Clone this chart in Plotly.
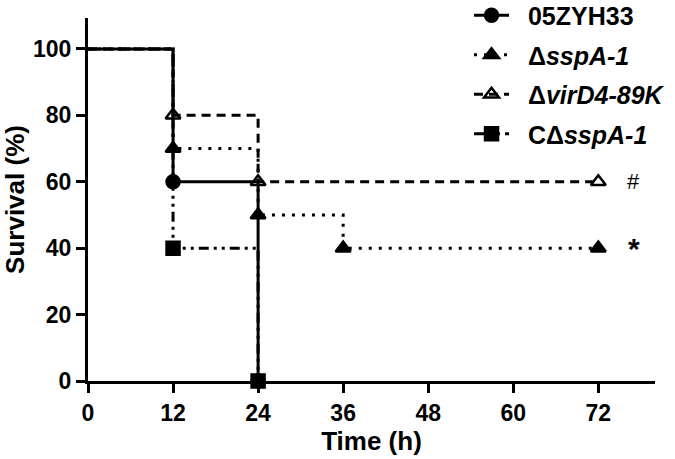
import plotly.graph_objects as go

# Kaplan-Meier step data (time in h, survival in %)
time_wt = [0, 12, 24]
surv_wt = [100, 60, 0]
time_sspa = [0, 12, 24, 36, 72]
surv_sspa = [100, 70, 50, 40, 40]
time_vird4 = [0, 12, 24, 72]
surv_vird4 = [100, 80, 60, 60]
time_comp = [0, 12, 24]
surv_comp = [100, 40, 0]

names = ["05ZYH33", "Δ<i>sspA-1</i>", "Δ<i>virD4-89K</i>", "CΔ<i>sspA-1</i>"]
x_ticks = [0, 12, 24, 36, 48, 60, 72]
y_ticks = [0, 20, 40, 60, 80, 100]
sig_labels = ["#", "*"]
sig_y = [60, 40]
sig_x = [77, 77]

FONT = "Liberation Sans"
PAD = "\u00a0\u00a0"
series = [
    # (x, y, name, dash, symbol)
    (time_comp, surv_comp, names[3], "10px,5px,3px,5px,3px,5px", "square"),
    (time_vird4, surv_vird4, names[2], "9px,6px", "triangle-up-open"),
    (time_sspa, surv_sspa, names[1], "3px,7px", "triangle-up"),
    (time_wt, surv_wt, names[0], "solid", "circle"),
]

fig = go.Figure()
for x, y, name, dash, sym in series:
    fig.add_trace(go.Scatter(x=x, y=y, mode="lines", line=dict(color="black", width=3, dash=dash, shape="hv"),
                             showlegend=False, hoverinfo="skip"))
for x, y, name, dash, sym in series:
    fig.add_trace(go.Scatter(x=x[1:], y=y[1:], mode="markers", cliponaxis=False,
                             marker=dict(symbol=sym, size=13, color="black", line=dict(color="black", width=2.5)),
                             showlegend=False))
# legend entries in reference order
for x, y, name, dash, sym in reversed(series):
    fig.add_trace(go.Scatter(x=[None], y=[None], mode="lines+markers", name=PAD + name, legendgroup=name,
                             line=dict(color="black", width=3, dash=dash),
                             marker=dict(symbol=sym, size=13, color="black", line=dict(color="black", width=2.5))))

for lab, xv, yv in zip(sig_labels, sig_x, sig_y):
    fig.add_annotation(x=xv, y=yv, text=lab, showarrow=False, xanchor="center", yanchor="middle",
                       font=dict(family=FONT, size=22 if lab == "#" else 30, color="black",
                                 weight="normal" if lab == "#" else "bold"))

fig.update_layout(
    width=675, height=459,
    margin=dict(l=88, r=20, t=18, b=78, autoexpand=False),
    paper_bgcolor="white", plot_bgcolor="white",
    font=dict(family=FONT, color="black"),
    legend=dict(x=0.672, y=1.07, xanchor="left", yanchor="top", traceorder="grouped", tracegroupgap=4,
                itemwidth=35, font=dict(family=FONT, size=25, weight="bold", color="black"),
                bgcolor="rgba(0,0,0,0)"),
    xaxis=dict(range=[0, 80], tickvals=x_ticks, showline=True, linewidth=3, linecolor="black",
               ticks="outside", ticklen=9, tickwidth=3, tickcolor="black", showgrid=False, zeroline=False,
               automargin=False,
               tickfont=dict(family=FONT, size=23, weight="bold"),
               title=dict(text="Time (h)", font=dict(family=FONT, size=26, weight="bold"), standoff=8)),
    yaxis=dict(range=[0, 109.3], tickvals=y_ticks, showline=True, linewidth=3, linecolor="black",
               ticks="outside", ticklen=9, tickwidth=3, tickcolor="black", showgrid=False, zeroline=False,
               automargin=False,
               tickfont=dict(family=FONT, size=23, weight="bold"),
               title=dict(text="Survival (%)", font=dict(family=FONT, size=26, weight="bold"), standoff=8)),
)
fig.write_html("out.html", config={"displayModeBar": False},
               post_script="document.body.style.margin='0';document.body.style.overflow='hidden';")
